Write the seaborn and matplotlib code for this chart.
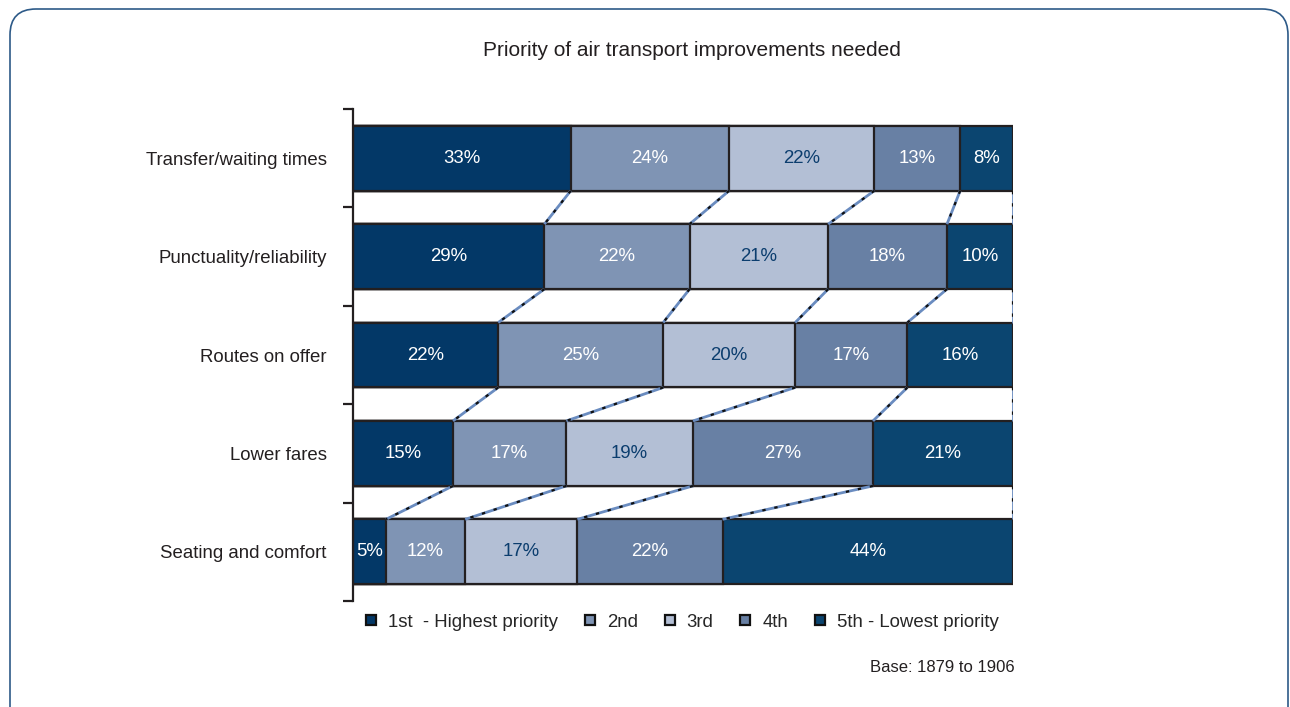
import numpy as np
import pandas as pd
import matplotlib
matplotlib.use("Agg")
import matplotlib.pyplot as plt
import seaborn as sns
from matplotlib.patches import FancyBboxPatch
from matplotlib.lines import Line2D
from matplotlib.transforms import IdentityTransform

categories = ['Transfer/waiting times', 'Punctuality/reliability', 'Routes on offer',
              'Lower fares', 'Seating and comfort']
ranks = ['1st  - Highest priority', '2nd', '3rd', '4th', '5th - Lowest priority']
first = [33, 29, 22, 15, 5]
second = [24, 22, 25, 17, 12]
third = [22, 21, 20, 19, 17]
fourth = [13, 18, 17, 27, 22]
fifth = [8, 10, 16, 21, 44]

colors = ['#033867', '#7f94b4', '#b3bfd5', '#6880a4', '#0b4570']
text_colors = ['white', 'white', '#0b3d6e', 'white', 'white']

sns.set_style("white")
plt.rcParams['font.family'] = ['Liberation Sans', 'DejaVu Sans']

vals = np.array([first, second, third, fourth, fifth], dtype=float)  # ranks x categories
pct = vals / vals.sum(axis=0) * 100  # 100% stacked
cum = np.cumsum(pct, axis=0)

fig = plt.figure(figsize=(12.9, 7.07), dpi=100)
ax = fig.add_axes([353 / 1290, 1 - 601 / 707, 660 / 1290, 492 / 707])

bar_h = 0.66
# draw cumulative bars from the largest down so they stack visually
for k in range(4, -1, -1):
    df = pd.DataFrame({'category': categories, 'value': cum[k]})
    sns.barplot(data=df, x='value', y='category', orient='h', color=colors[k],
                width=bar_h, edgecolor='#231f20', linewidth=1.6, saturation=1, ax=ax)

# segment labels
for k in range(5):
    for i in range(len(categories)):
        left = cum[k, i] - pct[k, i]
        ax.text(left + pct[k, i] / 2, i, f'{int(vals[k, i])}%', ha='center', va='center',
                color=text_colors[k], fontsize=13.4)

# series lines between bars
for k in range(5):
    for i in range(len(categories) - 1):
        xs = [cum[k, i], cum[k, i + 1]]
        ys = [i + bar_h / 2, i + 1 - bar_h / 2]
        ax.plot(xs, ys, color='#6a8cc0', lw=2.0, solid_capstyle='butt', zorder=1)
        ax.plot(xs, ys, color='#111111', lw=1.6, linestyle=(0, (1.5, 4)), zorder=1)

ax.set_xlim(0, 100)
ax.set_ylim(4.5, -0.5)
ax.set_xlabel('')
ax.set_ylabel('')
ax.set_xticks([])
for s in ['top', 'right', 'bottom']:
    ax.spines[s].set_visible(False)
ax.spines['left'].set_color('#231f20')
ax.spines['left'].set_linewidth(1.6)
ax.set_yticks(range(len(categories)))
ax.set_yticklabels(categories, fontsize=13.4, color='#231f20')
ax.set_yticks(np.arange(-0.5, len(categories)), minor=True)
ax.tick_params(axis='y', which='major', length=0, pad=19)
ax.tick_params(axis='y', which='minor', length=7, width=1.6, color='#231f20', direction='out', left=True)

fig.text(692 / 1290, 1 - 50 / 707, 'Priority of air transport improvements needed',
         ha='center', va='center', fontsize=15, color='#231f20')

handles = [Line2D([0], [0], marker='s', linestyle='none', markersize=7,
                  markerfacecolor=c, markeredgecolor='#111111', markeredgewidth=1.6)
           for c in colors]
fig.legend(handles, ranks, loc='center left', bbox_to_anchor=(362 / 1290, 1 - 622 / 707),
           ncol=5, frameon=False, fontsize=13.4, handletextpad=0.4, columnspacing=1.22,
           handlelength=1.0, borderaxespad=0, borderpad=0)

fig.text(1015 / 1290, 1 - 667 / 707, 'Base: 1879 to 1906', ha='right', va='center',
         fontsize=12, color='#231f20')

border = FancyBboxPatch((10, -40), 1278, 698 + 40, boxstyle='round,pad=0,rounding_size=26',
                        transform=IdentityTransform(), fill=False, edgecolor='#2d5a88',
                        linewidth=1.2)
fig.patches.append(border)

fig.savefig('out.png', dpi=100)
